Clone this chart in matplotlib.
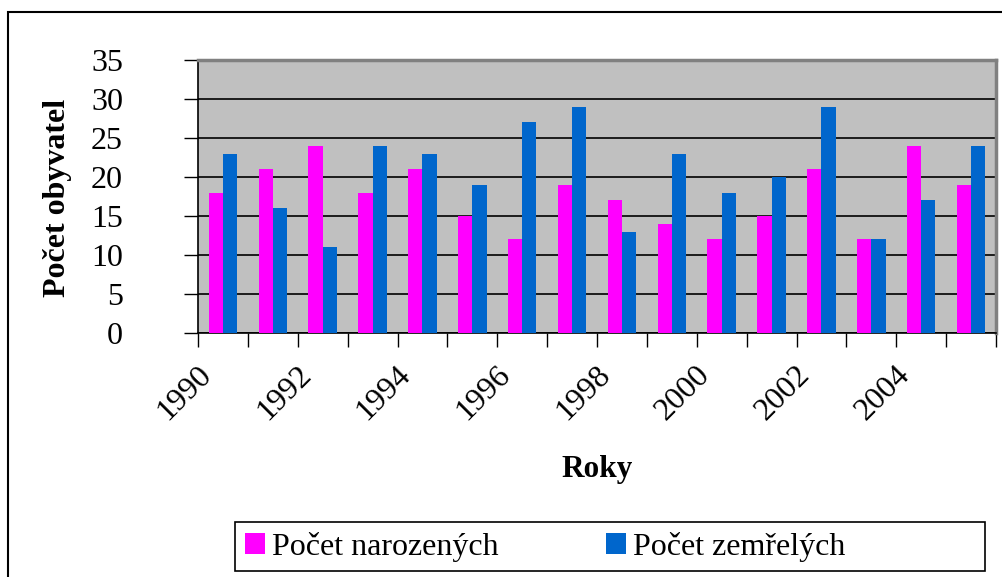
import matplotlib
matplotlib.use("Agg")
import matplotlib.pyplot as plt
import numpy as np
from matplotlib.patches import Rectangle, Patch
from matplotlib.transforms import ScaledTranslation

years = list(range(1990, 2006))
narozeni = [18, 21, 24, 18, 21, 15, 12, 19, 17, 14, 12, 15, 21, 12, 24, 19]
zemreli = [23, 16, 11, 24, 23, 19, 27, 29, 13, 23, 18, 20, 29, 12, 17, 24]
series_names = ["Počet narozených", "Počet zemřelých"]
colors = ["#FF00FF", "#0066CC"]

plt.rcParams['font.family'] = ['Liberation Serif', 'DejaVu Serif']

W, H = 1002, 577
fig = plt.figure(figsize=(W / 100, H / 100), dpi=100)
fig.patch.set_facecolor('white')

# outer frame
fig.patches.append(Rectangle((8 / W, -0.1), 1.2, (577 - 12) / H + 0.1, transform=fig.transFigure,
                             fill=False, edgecolor='black', linewidth=1.5, zorder=0))

L, R, T, B = 198, 996, 60, 333
ax = fig.add_axes([L / W, (H - B) / H, (R - L) / W, (B - T) / H])
ax.set_facecolor('#C0C0C0')

x = np.arange(len(years))
bw = 1 / 3.5
ax.bar(x - bw, narozeni, width=bw, align='edge', color=colors[0], zorder=3)
ax.bar(x, zemreli, width=bw, align='edge', color=colors[1], zorder=3)

ax.set_xlim(-0.5, len(years) - 0.5)
ax.set_ylim(0, 35)
ax.set_yticks(range(0, 36, 5))
ax.yaxis.grid(True, color='black', linewidth=1.2, zorder=1)
ax.set_axisbelow(True)

ax.tick_params(axis='y', direction='out', length=10, width=1, pad=44, labelsize=23)
ax.set_xticks(x[::2])
ax.set_xticklabels([str(y) for y in years[::2]])
ax.set_xticks(np.arange(-0.5, len(years), 1.0), minor=True)
ax.tick_params(axis='x', which='minor', direction='out', length=10, width=1)
ax.tick_params(axis='x', which='major', length=0, pad=27, labelsize=23)
off = ScaledTranslation(-16 / 100, 0, fig.dpi_scale_trans)
for lab in ax.get_xticklabels():
    lab.set_rotation(45)
    lab.set_rotation_mode('anchor')
    lab.set_ha('right')
    lab.set_va('center')
    lab.set_transform(lab.get_transform() + off)

for s in ['left', 'bottom']:
    ax.spines[s].set_color('black')
    ax.spines[s].set_linewidth(1.2)
for s in ['top', 'right']:
    ax.spines[s].set_color('#808080')
    ax.spines[s].set_linewidth(2.5)

fig.text(57 / W, 1 - 198 / H, "Počet obyvatel", rotation=90, ha='center', va='center',
         fontsize=23, fontweight='bold')
fig.text(597 / W, 1 - 470 / H, "Roky", ha='center', va='center', fontsize=22.5, fontweight='bold')

# legend frame
lx0, lx1, ly0, ly1 = 235, 985, 522, 571
fig.patches.append(Rectangle((lx0 / W, 1 - ly1 / H), (lx1 - lx0) / W, (ly1 - ly0) / H,
                             transform=fig.transFigure, fill=False, edgecolor='black',
                             linewidth=1.2, zorder=5))
handles = [Patch(facecolor=c, edgecolor='none') for c in colors]
leg = fig.legend(handles, series_names, loc='center left', ncol=2,
                 bbox_to_anchor=(245 / W, 1 - 547 / H),
                 fontsize=23, frameon=False,
                 handlelength=0.63, handleheight=0.63, handletextpad=0.22,
                 columnspacing=3.35, borderpad=0, borderaxespad=0)

fig.savefig("out.png", dpi=100)
